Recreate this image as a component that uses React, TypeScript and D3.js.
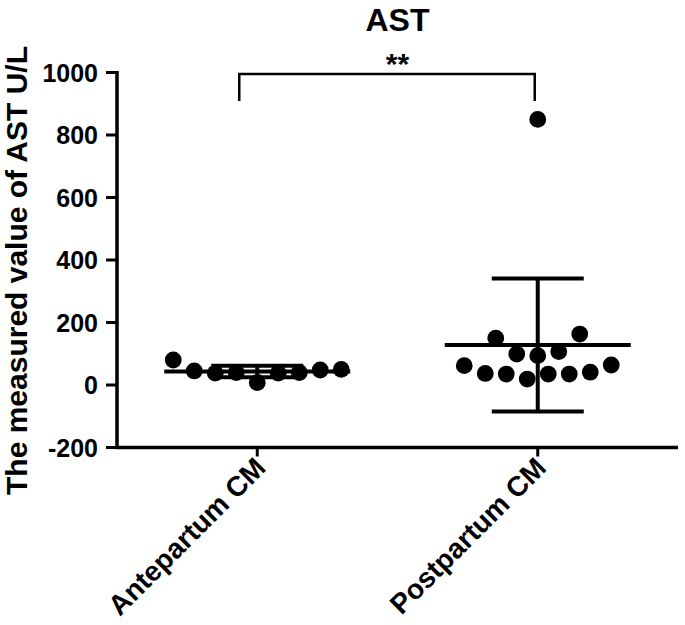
import React from "react";
import * as d3 from "d3";

const categories = ["Antepartum CM", "Postpartum CM"];
// values in lane order (left to right as drawn)
const anteValues = [80, 45, 38, 40, 8, 38, 40, 48, 50];
const anteLane = [-4, -3, -2, -1, 0, 1, 2, 3, 4];
const postValues = [62, 37, 35, 19, 35, 35, 41, 64, 99, 94, 107, 150, 163, 850];
const postLane = [-3.5, -2.5, -1.5, -0.5, 0.5, 1.5, 2.5, 3.5, -1, 0, 1, -2, 2, 0];
const yTicks = [-200, 0, 200, 400, 600, 800, 1000];
const title = "AST";
const yTitle = "The measured value of AST U/L";
const sigLabel = "**";

const W = 685, H = 625;
const FONT = "'Liberation Sans', Arial, Helvetica, sans-serif";

export default function App() {
  const y = d3.scaleLinear().domain([-200, 1000]).range([447.5, 72.5]);
  const x = d3.scalePoint<string>().domain(categories).range([117, 678]).padding(0.5);
  const laneStep = 21;
  const groups = [
    { cat: categories[0], values: anteValues, lanes: anteLane },
    { cat: categories[1], values: postValues, lanes: postLane },
  ];
  const axisLeft = 117, axisBottom = 447.5, axisRight = 678, axisTop = 72.5;
  const xa = x(categories[0])!, xb = x(categories[1])!;
  const bracketY = 74;
  return (
    <svg width={W} height={H} style={{ position: "absolute", left: 0, top: 0, background: "#fff" }} fontFamily={FONT}>
      <rect width={W} height={H} fill="#fff" />
      <text x={(axisLeft + axisRight) / 2} y={31} textAnchor="middle" fontSize={32} fontWeight="bold">{title}</text>
      {/* y axis */}
      <line x1={axisLeft} x2={axisLeft} y1={axisTop - 1.5} y2={axisBottom + 1.5} stroke="#000" strokeWidth={3.5} />
      {yTicks.map((t) => (
        <g key={t}>
          <line x1={axisLeft - 11} x2={axisLeft} y1={y(t)} y2={y(t)} stroke="#000" strokeWidth={3} />
          <text x={axisLeft - 19} y={y(t)} dy="0.36em" textAnchor="end" fontSize={25} fontWeight="bold">{t}</text>
        </g>
      ))}
      <text transform={`translate(27, ${(44 + 497) / 2}) rotate(-90)`} textAnchor="middle" fontSize={30} fontWeight="bold">{yTitle}</text>
      {/* x axis */}
      <line x1={axisLeft - 1.5} x2={axisRight} y1={axisBottom} y2={axisBottom} stroke="#000" strokeWidth={3.5} />
      {categories.map((c) => (
        <g key={c}>
          <line x1={x(c)!} x2={x(c)!} y1={axisBottom} y2={axisBottom + 9} stroke="#000" strokeWidth={3} />
          <text transform={`translate(${x(c)! + 10}, ${axisBottom + 22}) rotate(-45)`} textAnchor="end" fontSize={28} fontWeight="bold">{c}</text>
        </g>
      ))}
      {/* groups */}
      {groups.map((g) => {
        const cx = x(g.cat)!;
        const mean = d3.mean(g.values)!;
        const sd = d3.deviation(g.values)!;
        return (
          <g key={g.cat}>
            {g.values.map((v, i) => (
              <circle key={i} cx={cx + g.lanes[i] * laneStep} cy={y(v)} r={8.4} fill="#000" />
            ))}
            <line x1={cx - 93} x2={cx + 93} y1={y(mean)} y2={y(mean)} stroke="#000" strokeWidth={4} />
            <line x1={cx} x2={cx} y1={y(mean + sd)} y2={y(mean - sd)} stroke="#000" strokeWidth={4} />
            <line x1={cx - 46} x2={cx + 46} y1={y(mean + sd)} y2={y(mean + sd)} stroke="#000" strokeWidth={4} />
            <line x1={cx - 46} x2={cx + 46} y1={y(mean - sd)} y2={y(mean - sd)} stroke="#000" strokeWidth={4} />
          </g>
        );
      })}
      {/* significance bracket */}
      <path d={`M${xa - 18},${bracketY + 27} V${bracketY} H${xb - 3} V${bracketY + 27}`} fill="none" stroke="#000" strokeWidth={2.5} />
      <text x={(axisLeft + axisRight) / 2} y={bracketY} textAnchor="middle" fontSize={30} fontWeight="bold">{sigLabel}</text>
    </svg>
  );
}
